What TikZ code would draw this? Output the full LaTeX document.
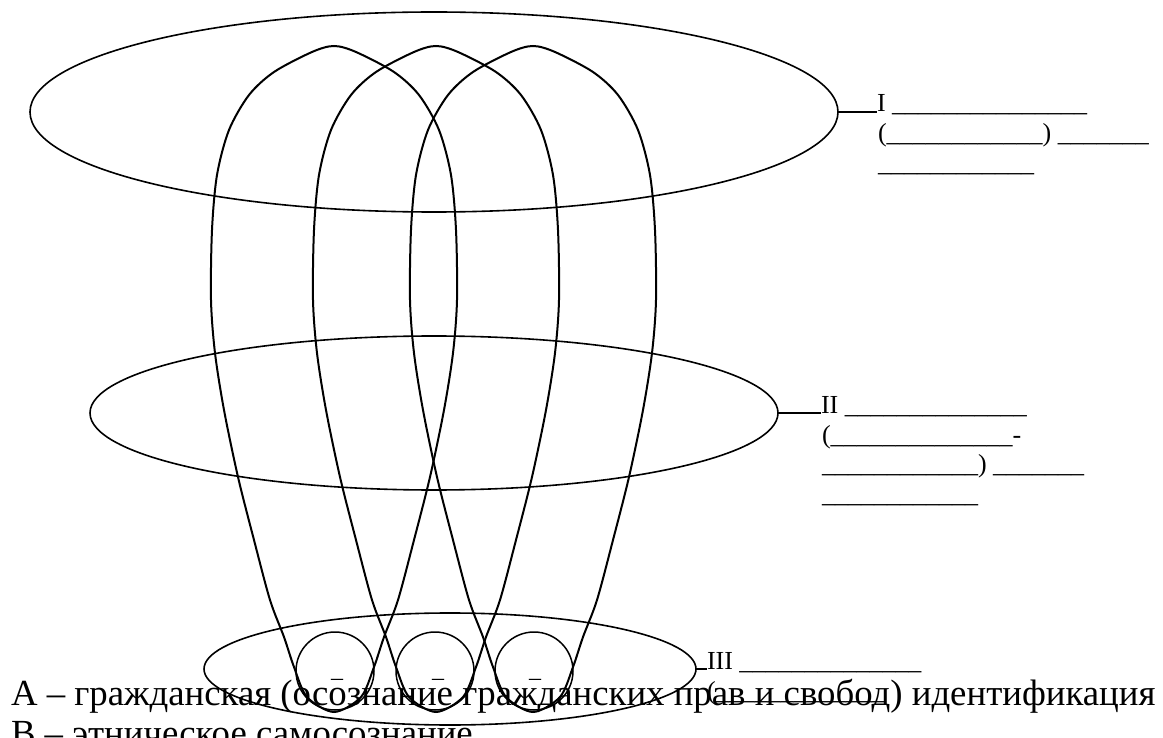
\documentclass[tikz,border=0pt]{standalone}
\usepackage{fontspec}
\setmainfont{Liberation Serif}
\usetikzlibrary{shapes.geometric}
\newcommand\myloop[2]{\draw[loopline, shift={(#2,0)}] plot[smooth cycle, tension=0.5] coordinates {(0,46) (22,52) (60,72) (85,95) (105,130) (117,175) (122,230) (123,300) (119,353) (110,410) (96,477) (80,540) (64,600) (50,637) (40,667) (27,697) (0,712) (-27,697) (-40,667) (-50,637) (-64,600) (-80,540) (-96,477) (-110,410) (-119,353) (-123,300) (-122,230) (-117,175) (-105,130) (-85,95) (-60,72) (-22,52)};}
\newcommand\us[1]{\foreach \i in {1,...,#1}{\_}}
\begin{document}
\begin{tikzpicture}[x=1pt,y=-1pt,
  ell/.style={ellipse, draw, line width=1.6pt, inner sep=0pt, outer sep=0pt},
  circ/.style={circle, draw, line width=1.5pt, inner sep=0pt, outer sep=0pt, minimum size=78pt},
  loopline/.style={line width=2pt},
  lab/.style={anchor=base west, inner sep=0pt, outer sep=0pt, font=\fontsize{26}{30}\selectfont},
  big/.style={anchor=base west, inner sep=0pt, outer sep=0pt, font=\fontsize{36.8}{40}\selectfont},
  dsh/.style={anchor=base, inner sep=0pt, font=\fontsize{24}{28}\selectfont},
  conn/.style={line width=1.5pt}]
\useasboundingbox (0,0) rectangle (1163,738);
\clip (0,0) rectangle (1163,738);
% ellipses
\node[ell, minimum width=808pt, minimum height=200pt] (E1) at (434,112) {};
\node[ell, minimum width=688pt, minimum height=154pt] (E2) at (434,413) {};
\node[ell, minimum width=492pt, minimum height=112pt] (E3) at (450,669) {};
% circles
\node[circ] (C1) at (335,671) {};
\node[circ] (C2) at (435,671) {};
\node[circ] (C3) at (534,671) {};
% loops
\myloop{L1}{334}
\myloop{L2}{436}
\myloop{L3}{533}
% dashes in circles
\node[dsh] (d1) at (337,685) {–};
\node[dsh] (d2) at (438,685) {–};
\node[dsh] (d3) at (535,685) {–};
% label I
\coordinate (c1) at (877,112);
\draw[conn] (E1.east) -- (c1);
\node[lab] (l1a) at (c1) {I \us{15}};
\node[lab] (l1b) at (878,142) {(\us{12}) \us{7}};
\node[lab] (l1c) at (878,172) {\us{12}};
% label II
\coordinate (c2) at (821,413);
\draw[conn] (E2.east) -- (c2);
\node[lab] (l2a) at (c2) {II \us{14}};
\node[lab] (l2b) at (822,443) {(\us{14}-};
\node[lab] (l2c) at (822,472) {\us{12}) \us{7}};
\node[lab] (l2d) at (822,502) {\us{12}};
% label III
\coordinate (c3) at (707,669);
\draw[conn] (E3.east) -- (c3);
\node[lab] (l3a) at (c3) {III \us{14}};
\node[lab] (l3b) at (707,699) {(\us{13}};
% legend
\node[big] (t1) at (11,705) {А – гражданская (осознание гражданских прав и свобод) идентификация};
\node[big] (t2) at (11,745) {В – этническое самосознание};
\end{tikzpicture}
\end{document}
